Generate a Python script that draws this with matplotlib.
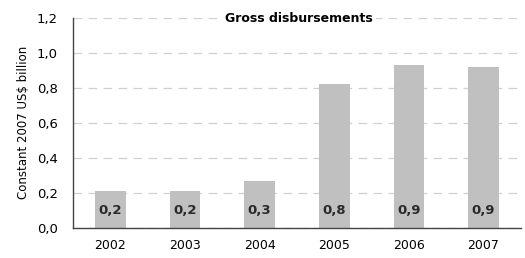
import matplotlib.pyplot as plt

years = ['2002', '2003', '2004', '2005', '2006', '2007']
values = [0.21, 0.21, 0.27, 0.82, 0.93, 0.92]
labels = ['0,2', '0,2', '0,3', '0,8', '0,9', '0,9']
yticks = [0.0, 0.2, 0.4, 0.6, 0.8, 1.0, 1.2]

plt.rcParams['font.family'] = ['DejaVu Sans']
fig = plt.figure(figsize=(5.25, 2.58), dpi=100)
ax = fig.add_axes([0.139, 0.1175, 0.853, 0.8125])

x = range(len(years))
ax.bar(x, values, width=0.41, color='#c0c0c0', zorder=2)
for i, lab in enumerate(labels):
    ax.text(i, 0.1, lab, ha='center', va='center', fontsize=9.5, fontweight='semibold', color='#2a2a2a', zorder=3)

ax.set_xlim(-0.5, 5.5)
ax.set_ylim(0, 1.2)
ax.set_xticks(list(x))
ax.set_xticklabels(years, fontsize=9)
ax.set_yticks(yticks)
ax.set_yticklabels([('%.1f' % t).replace('.', ',') for t in yticks], fontsize=9.5)
ax.tick_params(axis='x', length=0, pad=8)
ax.tick_params(axis='y', length=0, pad=11)
ax.yaxis.grid(True, linestyle=(0, (7, 5)), color='#d0d0d0', linewidth=0.9, zorder=0)
ax.set_axisbelow(True)
for s in ['top', 'right']:
    ax.spines[s].set_visible(False)
ax.spines['left'].set_color('#444444')
ax.spines['bottom'].set_color('#444444')
ax.spines['left'].set_linewidth(1)
ax.spines['bottom'].set_linewidth(1)
ax.set_ylabel('Constant 2007 US$ billion', fontsize=8.5, labelpad=5)

ax.text(2.53, 1.2, 'Gross disbursements',
        ha='center', va='center', fontsize=9, fontweight='bold',
        bbox=dict(facecolor='white', edgecolor='none', pad=2), zorder=4, clip_on=False)

fig.savefig('out.png', dpi=100)
